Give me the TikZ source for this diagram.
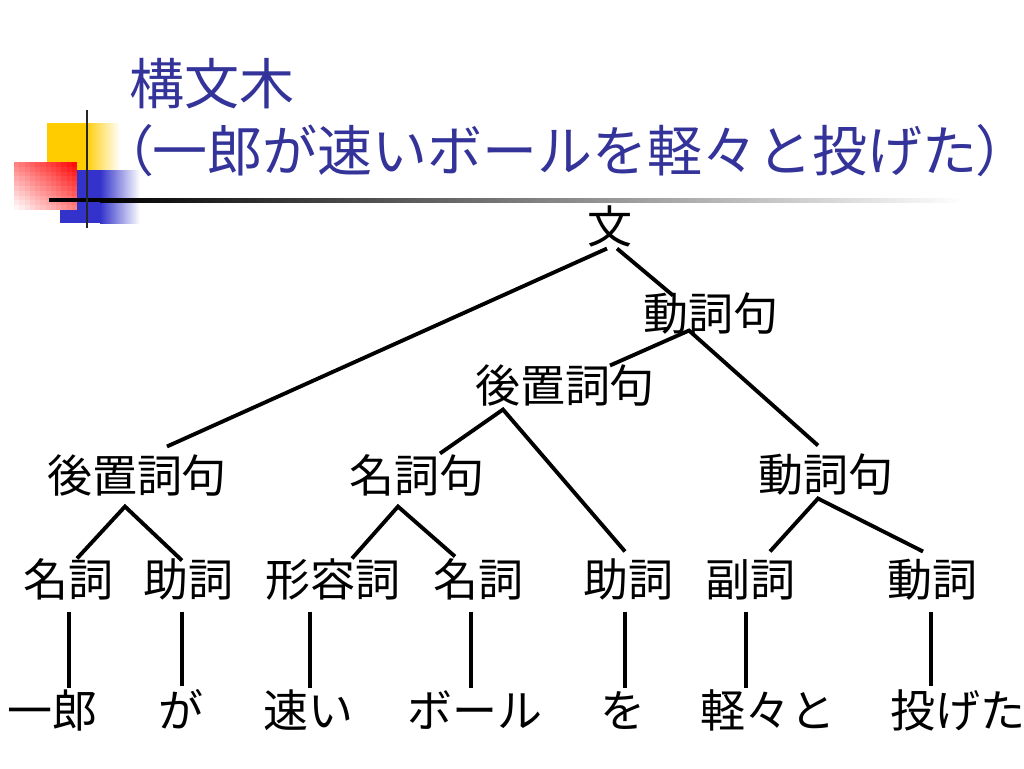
\documentclass[tikz,border=0pt]{standalone}
\usepackage{fontspec}
\setmainfont{Noto Sans CJK JP}
\usepackage{tikz}
\usetikzlibrary{calc}
\definecolor{titleblue}{RGB}{51,51,153}
\definecolor{barblue}{RGB}{51,51,204}
\definecolor{baryellow}{RGB}{255,204,0}
\tikzset{word/.style={inner sep=0pt,text height=20.5pt,text depth=1.8pt,font=\fontsize{25.6}{30}\selectfont}}
\tikzset{head/.style={inner sep=0pt,anchor=base west,text=titleblue,font=\fontsize{31.3}{36}\selectfont}}

\begin{document}
\begin{tikzpicture}[x=0.02cm, y=-0.02cm, line width=2.2pt, line join=miter]
        \useasboundingbox (0,0) rectangle (1024,768);
        % header bars
        \fill[baryellow] (47,123) rectangle (85,170);
        \shade[left color=baryellow, right color=white] (85,123) rectangle (120,170);
        \fill[barblue] (60,170) rectangle (100,223);
        \shade[left color=barblue, right color=white] (100,170) rectangle (140,223);
        % red square, strongest at its top right corner
        \foreach \i in {0,...,11} {
          \foreach \j in {0,...,9} {
            \pgfmathtruncatemacro{\p}{50*(\i+0.5)/12 + 50*(1-(\j+0.5)/10)}
            \fill[red!\p!white] ({14+\i*5.25},{162+\j*4.8}) rectangle ({14.3+(\i+1)*5.25},{162.3+(\j+1)*4.8});
          }
        }
        \fill[black] (49,198) rectangle (100,202);
        \shade[left color=black, right color=white] (100,198) rectangle (965,202);
        \draw[black!85, line width=1.7pt] (87,110) -- (87,228);
        \node[head] (title) at (128,104) {構文木};
        \node[head] (sub) at (123,171) {{\addfontfeature{RawFeature=+palt}（}一郎が速いボールを軽々と投げた{\addfontfeature{RawFeature=+palt}）}};
        % tree
        \node[word] (S) at (610,227) {文};
        \node[word] (vpT) at (711,314) {動詞句};
        \node[word] (ppM) at (565,386) {後置詞句};
        \node[word] (ppL) at (137,476) {後置詞句};
        \node[word] (np) at (417,476) {名詞句};
        \node[word] (vpR) at (826,475) {動詞句};
        \node[word] (n1) at (68,580) {名詞};
        \node[word] (p1) at (188,580) {助詞};
        \node[word] (adj) at (333,580) {形容詞};
        \node[word] (n2) at (478,580) {名詞};
        \node[word] (p2) at (628,580) {助詞};
        \node[word] (adv) at (750,580) {副詞};
        \node[word] (v) at (932,580) {動詞};
        \node[word] (w1) at (52,711) {一郎};
        \node[word] (w2) at (181,711) {が};
        \node[word] (w3) at (308,711) {速い};
        \node[word] (w4) at (475,711) {ボール};
        \node[word] (w5) at (623,711) {を};
        \node[word] (w6) at (768,711) {軽々と};
        \node[word] (w7) at (958,711) {投げた};
        \path ($(S.south)+(-3,0)$) edge ($(ppL.north)+(30,-8)$);
        \path ($(S.south)+(7,0)$) edge ($(vpT.north)+(-38,3)$);
        \draw ($(ppM.north)+(45,1)$) -- ($(vpT.south)+(-22,-5)$) -- ($(vpR.north)+(-8,-8)$);
        \draw ($(np.north)+(23,-1)$) -- ($(ppM.south)+(-62,2)$) -- ($(p2.north)+(-3,-7)$);
        \draw ($(n1.north)+(9,0)$) -- ($(ppL.south)+(-12,9)$) -- ($(p1.north)+(-6,2)$);
        \draw ($(adj.north)+(19,0)$) -- ($(np.south)+(-19,9)$) -- ($(n2.north)+(-23,-2)$);
        \draw ($(adv.north)+(20,-7)$) -- ($(vpR.south)+(-8,2)$) -- ($(v.north)+(-9,-7)$);
        \path ($(n1.south)+(1,10)$) edge ($(w1.north)+(17,-1)$);
        \path ($(p1.south)+(-6,10)$) edge ($(w2.north)+(1,-3)$);
        \path ($(adj.south)+(-23,10)$) edge ($(w3.north)+(2,-1)$);
        \path ($(n2.south)+(-7,10)$) edge ($(w4.north)+(-4,-1)$);
        \path ($(p2.south)+(-3,10)$) edge ($(w5.north)+(2,-1)$);
        \path ($(adv.south)+(-4,10)$) edge ($(w6.north)+(-22,-1)$);
        \path ($(v.south)+(-1,10)$) edge ($(w7.north)+(-27,-3)$);
\end{tikzpicture}
\end{document}
